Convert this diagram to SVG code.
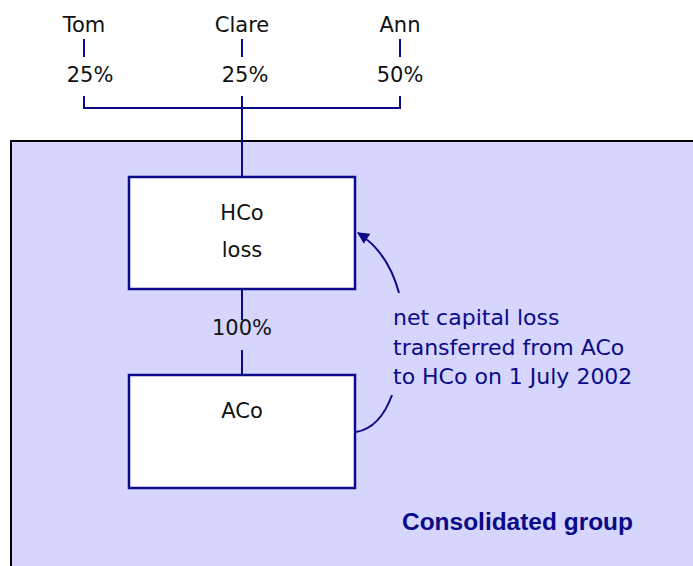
<svg xmlns="http://www.w3.org/2000/svg" width="693" height="566" viewBox="0 0 693 566">
<style>
.lbl{font-family:"DejaVu Sans",sans-serif;font-size:21px;fill:#111;text-anchor:middle}
.note{font-family:"DejaVu Sans",sans-serif;font-size:22px;fill:#0a0a8a}
.grp{font-family:"Liberation Sans",Arial,sans-serif;font-size:23px;font-weight:bold;fill:#0a0a8a}
.box{fill:#fff;stroke:#0a0a8a;stroke-width:2.5}
.ln{fill:none;stroke:#0a0a8a;stroke-width:2}
</style>
<defs>
<marker id="ah" viewBox="0 0 10 10" refX="9" refY="5" markerWidth="6" markerHeight="6" orient="auto" markerUnits="strokeWidth">
<path d="M0,0 L10,5 L0,10 z" fill="#0a0a8a"/>
</marker>
</defs>
<g id="consolidated-group">
<rect x="11" y="141" width="690" height="440" fill="#d5d5fd" stroke="#000" stroke-width="2"/>
<text class="grp" x="402" y="530" textLength="231" lengthAdjust="spacingAndGlyphs">Consolidated group</text>
</g>
<g id="tom"><text class="lbl" x="84" y="32">Tom</text><text class="lbl" x="90" y="82">25%</text></g>
<g id="clare"><text class="lbl" x="242" y="32">Clare</text><text class="lbl" x="245" y="82">25%</text></g>
<g id="ann"><text class="lbl" x="400" y="32">Ann</text><text class="lbl" x="400" y="82">50%</text></g>
<g id="connectors">
<path class="ln" d="M84,39 V57 M242,39 V57 M400,39 V57"/>
<path class="ln" d="M84,96 V108 H400 V96 M242,96 V108"/>
<path class="ln" d="M242,108 V177" stroke-width="2.5"/>
<path class="ln" d="M242,289 V320 M242,350 V375"/>
<text class="lbl" x="242" y="335">100%</text>
<path class="ln" d="M399,293 Q388,252 358,233" marker-end="url(#ah)"/>
<path class="ln" d="M392,395 Q380,428 356,432"/>
</g>
<g id="hco">
<rect class="box" x="129" y="177" width="226" height="112"/>
<text class="lbl" x="242" y="220">HCo</text>
<text class="lbl" x="242" y="257">loss</text>
</g>
<g id="aco">
<rect class="box" x="129" y="375" width="226" height="113"/>
<text class="lbl" x="242" y="418">ACo</text>
</g>
<g id="note">
<text class="note" x="393" y="325">net capital loss</text>
<text class="note" x="393" y="355">transferred from ACo</text>
<text class="note" x="393" y="384">to HCo on 1 July 2002</text>
</g>
</svg>
